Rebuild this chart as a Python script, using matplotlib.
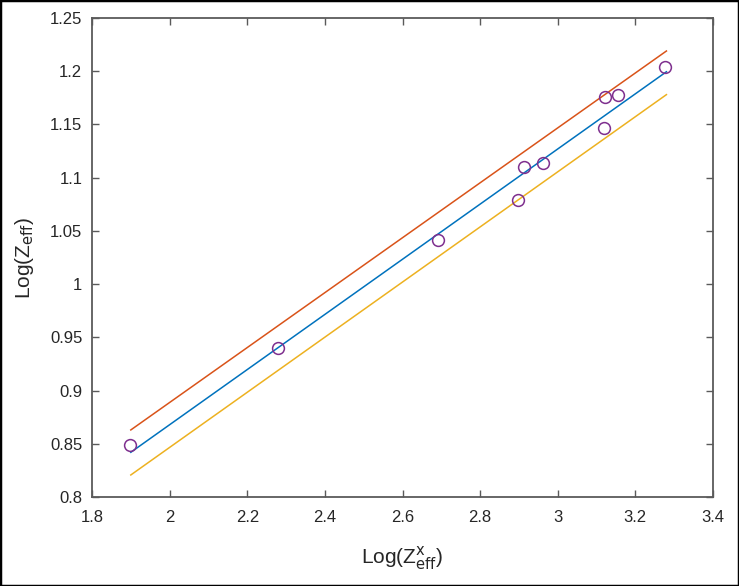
import numpy as np
import matplotlib
matplotlib.use("Agg")
import matplotlib.pyplot as plt
from matplotlib.patches import Rectangle

plt.rcParams['font.family'] = ['Liberation Sans', 'DejaVu Sans']

# measured points
x_pts = [1.898, 2.279, 2.692, 2.898, 2.913, 2.962, 3.120, 3.122, 3.156, 3.277]
y_pts = [0.849, 0.940, 1.0415, 1.079, 1.110, 1.114, 1.147, 1.176, 1.178, 1.204]

# fit line + upper / lower bounds (end points)
x_fit = [1.90, 3.28]
y_fit = [0.842, 1.1995]
y_upper = [0.863, 1.219]
y_lower = [0.8207, 1.178]

xticks = [1.8, 2, 2.2, 2.4, 2.6, 2.8, 3, 3.2, 3.4]
yticks = [0.8, 0.85, 0.9, 0.95, 1, 1.05, 1.1, 1.15, 1.2, 1.25]

fig = plt.figure(figsize=(7.39, 5.86), dpi=100)
ax = fig.add_axes([92/739, 1 - 497/586, (713-92)/739, (497-18)/586])

ax.plot(x_fit, y_fit, color=(0, 0.447, 0.741), lw=1.1)
ax.plot(x_fit, y_upper, color=(0.85, 0.325, 0.098), lw=1.1)
ax.plot(x_fit, y_lower, color=(0.929, 0.694, 0.125), lw=1.1)
ax.plot(x_pts, y_pts, 'o', mfc='none', mec=(0.494, 0.184, 0.556), ms=8.5, mew=1.1)

ax.set_xlim(1.8, 3.4)
ax.set_ylim(0.8, 1.25)
ax.set_xticks(xticks)
ax.set_xticklabels([f'{v:g}' for v in xticks])
ax.set_yticks(yticks)
ax.set_yticklabels([f'{v:g}' for v in yticks])

axcol = '#5a5a5a'
for s in ax.spines.values():
    s.set_color(axcol)
    s.set_linewidth(1.3)
ax.tick_params(direction='in', length=5, width=1, colors=axcol,
               labelcolor='#262626', labelsize=12, top=True, right=True)
ax.tick_params(axis='x', pad=9)
ax.tick_params(axis='y', pad=7)

ax.set_xlabel(r'Log(Z$^{\mathrm{x}}_{\mathrm{eff}}$)', fontsize=15, color='#262626', labelpad=14)
ax.set_ylabel(r'Log(Z$_{\mathrm{eff}}$)', fontsize=15, color='#262626', labelpad=10)

fig.patches.append(Rectangle((0, 0), 1, 1, transform=fig.transFigure, fill=False,
                             edgecolor='black', lw=2.5))

fig.savefig('out.png', dpi=100)
